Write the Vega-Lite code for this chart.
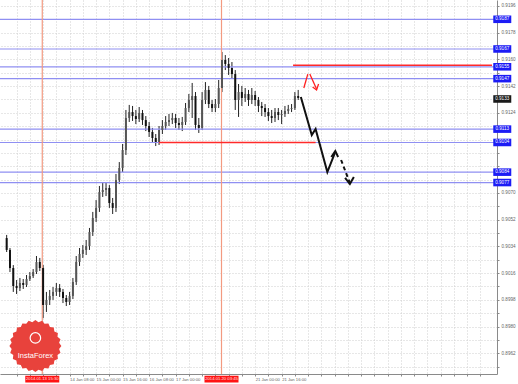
{
"$schema": "https://vega.github.io/schema/vega-lite/v6.json",
"width": 497, "height": 374,
"autosize": {"type": "none"},
"padding": {"left": 0, "top": 0, "right": 21, "bottom": 10},
"background": "white",
"config": {"view": {"stroke": null}, "font": "Liberation Sans"},
"resolve": {"scale": {"x": "shared", "y": "shared"}, "axis": {"x": "independent", "y": "independent"}},
"datasets": {
"candles": [
{"t":-6,"o":0.90396,"h":0.90417,"l":0.90302,"c":0.90316},
{"t":-4,"o":0.90316,"h":0.90329,"l":0.90167,"c":0.90194},
{"t":-2,"o":0.90194,"h":0.90214,"l":0.90033,"c":0.90073},
{"t":0,"o":0.90073,"h":0.90113,"l":0.90019,"c":0.90059},
{"t":2,"o":0.90059,"h":0.90127,"l":0.90039,"c":0.90093},
{"t":4,"o":0.90093,"h":0.90120,"l":0.90053,"c":0.90080},
{"t":6,"o":0.90080,"h":0.90147,"l":0.90066,"c":0.90120},
{"t":8,"o":0.90120,"h":0.90167,"l":0.90107,"c":0.90140},
{"t":10,"o":0.90140,"h":0.90187,"l":0.90127,"c":0.90167},
{"t":12,"o":0.90167,"h":0.90275,"l":0.90154,"c":0.90235},
{"t":14,"o":0.90235,"h":0.90262,"l":0.90174,"c":0.90194},
{"t":16,"o":0.90194,"h":0.90214,"l":0.89857,"c":0.89945},
{"t":18,"o":0.89945,"h":0.90033,"l":0.89898,"c":0.89979},
{"t":20,"o":0.89979,"h":0.90046,"l":0.89945,"c":0.90006},
{"t":22,"o":0.90006,"h":0.90066,"l":0.89979,"c":0.90033},
{"t":24,"o":0.90033,"h":0.90093,"l":0.90006,"c":0.90059},
{"t":26,"o":0.90059,"h":0.90086,"l":0.89999,"c":0.90033},
{"t":28,"o":0.90033,"h":0.90053,"l":0.89958,"c":0.89992},
{"t":30,"o":0.89992,"h":0.90012,"l":0.89938,"c":0.89965},
{"t":32,"o":0.89965,"h":0.90033,"l":0.89945,"c":0.90006},
{"t":34,"o":0.90006,"h":0.90127,"l":0.89985,"c":0.90100},
{"t":36,"o":0.90100,"h":0.90275,"l":0.90080,"c":0.90235},
{"t":38,"o":0.90235,"h":0.90329,"l":0.90208,"c":0.90289},
{"t":40,"o":0.90289,"h":0.90349,"l":0.90262,"c":0.90316},
{"t":42,"o":0.90316,"h":0.90383,"l":0.90282,"c":0.90342},
{"t":44,"o":0.90342,"h":0.90464,"l":0.90316,"c":0.90437},
{"t":46,"o":0.90437,"h":0.90572,"l":0.90410,"c":0.90531},
{"t":48,"o":0.90531,"h":0.90652,"l":0.90504,"c":0.90599},
{"t":50,"o":0.90599,"h":0.90747,"l":0.90572,"c":0.90706},
{"t":52,"o":0.90706,"h":0.90767,"l":0.90673,"c":0.90720},
{"t":54,"o":0.90720,"h":0.90767,"l":0.90679,"c":0.90733},
{"t":56,"o":0.90733,"h":0.90753,"l":0.90599,"c":0.90632},
{"t":58,"o":0.90632,"h":0.90666,"l":0.90558,"c":0.90599},
{"t":60,"o":0.90599,"h":0.90828,"l":0.90572,"c":0.90787},
{"t":62,"o":0.90787,"h":0.90908,"l":0.90760,"c":0.90868},
{"t":64,"o":0.90868,"h":0.91030,"l":0.90841,"c":0.90989},
{"t":66,"o":0.90989,"h":0.91259,"l":0.90956,"c":0.91205},
{"t":68,"o":0.91205,"h":0.91293,"l":0.91178,"c":0.91245},
{"t":70,"o":0.91245,"h":0.91286,"l":0.91185,"c":0.91218},
{"t":72,"o":0.91218,"h":0.91259,"l":0.91164,"c":0.91198},
{"t":74,"o":0.91198,"h":0.91279,"l":0.91178,"c":0.91239},
{"t":76,"o":0.91239,"h":0.91259,"l":0.91158,"c":0.91191},
{"t":78,"o":0.91191,"h":0.91218,"l":0.91117,"c":0.91151},
{"t":80,"o":0.91151,"h":0.91178,"l":0.91077,"c":0.91111},
{"t":82,"o":0.91111,"h":0.91138,"l":0.91043,"c":0.91070},
{"t":84,"o":0.91070,"h":0.91097,"l":0.91016,"c":0.91043},
{"t":86,"o":0.91043,"h":0.91151,"l":0.91023,"c":0.91124},
{"t":88,"o":0.91124,"h":0.91191,"l":0.91097,"c":0.91151},
{"t":90,"o":0.91151,"h":0.91218,"l":0.91124,"c":0.91178},
{"t":92,"o":0.91178,"h":0.91232,"l":0.91151,"c":0.91191},
{"t":94,"o":0.91191,"h":0.91239,"l":0.91164,"c":0.91205},
{"t":96,"o":0.91205,"h":0.91232,"l":0.91138,"c":0.91171},
{"t":98,"o":0.91171,"h":0.91205,"l":0.91124,"c":0.91158},
{"t":100,"o":0.91158,"h":0.91212,"l":0.91117,"c":0.91178},
{"t":102,"o":0.91178,"h":0.91306,"l":0.91158,"c":0.91272},
{"t":104,"o":0.91272,"h":0.91367,"l":0.91245,"c":0.91326},
{"t":106,"o":0.91326,"h":0.91441,"l":0.91205,"c":0.91353},
{"t":108,"o":0.91353,"h":0.91380,"l":0.91124,"c":0.91158},
{"t":110,"o":0.91158,"h":0.91205,"l":0.91104,"c":0.91138},
{"t":112,"o":0.91138,"h":0.91380,"l":0.91124,"c":0.91326},
{"t":114,"o":0.91326,"h":0.91447,"l":0.91299,"c":0.91394},
{"t":116,"o":0.91394,"h":0.91421,"l":0.91272,"c":0.91299},
{"t":118,"o":0.91299,"h":0.91326,"l":0.91245,"c":0.91272},
{"t":120,"o":0.91272,"h":0.91333,"l":0.91245,"c":0.91299},
{"t":122,"o":0.91299,"h":0.91461,"l":0.91272,"c":0.91407},
{"t":124,"o":0.91407,"h":0.91650,"l":0.91380,"c":0.91596},
{"t":126,"o":0.91596,"h":0.91629,"l":0.91528,"c":0.91569},
{"t":128,"o":0.91569,"h":0.91609,"l":0.91495,"c":0.91542},
{"t":130,"o":0.91542,"h":0.91582,"l":0.91474,"c":0.91501},
{"t":132,"o":0.91501,"h":0.91528,"l":0.91259,"c":0.91326},
{"t":134,"o":0.91326,"h":0.91434,"l":0.91212,"c":0.91380},
{"t":136,"o":0.91380,"h":0.91421,"l":0.91286,"c":0.91340},
{"t":138,"o":0.91340,"h":0.91407,"l":0.91313,"c":0.91367},
{"t":140,"o":0.91367,"h":0.91394,"l":0.91286,"c":0.91326},
{"t":142,"o":0.91326,"h":0.91407,"l":0.91299,"c":0.91360},
{"t":144,"o":0.91360,"h":0.91387,"l":0.91286,"c":0.91326},
{"t":146,"o":0.91326,"h":0.91346,"l":0.91245,"c":0.91286},
{"t":148,"o":0.91286,"h":0.91313,"l":0.91218,"c":0.91272},
{"t":150,"o":0.91272,"h":0.91299,"l":0.91212,"c":0.91245},
{"t":152,"o":0.91245,"h":0.91272,"l":0.91185,"c":0.91218},
{"t":154,"o":0.91218,"h":0.91259,"l":0.91171,"c":0.91205},
{"t":156,"o":0.91205,"h":0.91272,"l":0.91178,"c":0.91245},
{"t":158,"o":0.91245,"h":0.91272,"l":0.91191,"c":0.91225},
{"t":160,"o":0.91225,"h":0.91259,"l":0.91164,"c":0.91232},
{"t":162,"o":0.91232,"h":0.91286,"l":0.91212,"c":0.91252},
{"t":164,"o":0.91252,"h":0.91293,"l":0.91232,"c":0.91266},
{"t":166,"o":0.91266,"h":0.91299,"l":0.91245,"c":0.91272},
{"t":168,"o":0.91272,"h":0.91380,"l":0.91259,"c":0.91353},
{"t":170,"o":0.91353,"h":0.91394,"l":0.91326,"c":0.91340}
],
"hlines": [{"p":0.9187},{"p":0.9167},{"p":0.9155},{"p":0.9147},{"p":0.9113},{"p":0.9104},{"p":0.9084},{"p":0.9077}],
"redlines": [{"t1":166.9,"t2":287,"p":0.9156},{"t1":85.9,"t2":180.5,"p":0.9104}],
"vlines": [{"t":15.5},{"t":123.7}],
"arrow": [
{"seg":"a","i":0,"t":171.6,"p":0.91346},
{"seg":"a","i":1,"t":178.2,"p":0.91090},
{"seg":"a","i":2,"t":180.5,"p":0.91131},
{"seg":"a","i":3,"t":187.6,"p":0.90841},
{"seg":"a","i":4,"t":192.4,"p":0.90976},
{"seg":"h","i":0,"t":190.0,"p":0.90942},
{"seg":"h","i":1,"t":192.4,"p":0.90983},
{"seg":"h","i":2,"t":194.1,"p":0.90942},
{"seg":"h2","i":0,"t":198.3,"p":0.90801},
{"seg":"h2","i":1,"t":201.2,"p":0.90760},
{"seg":"h2","i":2,"t":203.6,"p":0.90807}
],
"dashed": [
{"seg":"d","i":0,"t":195.9,"p":0.90922},
{"seg":"d","i":1,"t":201.2,"p":0.90767}
],
"redarrow": [
{"seg":"r1","i":0,"t":173.4,"p":0.91407},
{"seg":"r1","i":1,"t":175.8,"p":0.91501},
{"seg":"r2","i":0,"t":177.0,"p":0.91501},
{"seg":"r2","i":1,"t":181.1,"p":0.91400},
{"seg":"r3","i":0,"t":178.7,"p":0.91414},
{"seg":"r3","i":1,"t":181.1,"p":0.91394},
{"seg":"r3","i":2,"t":182.3,"p":0.91434}
],
"plabels": [
{"p":0.9187,"lab":"0.9187","kind":"blue"},
{"p":0.9167,"lab":"0.9167","kind":"blue"},
{"p":0.9155,"lab":"0.9155","kind":"blue"},
{"p":0.9147,"lab":"0.9147","kind":"blue"},
{"p":0.91333,"lab":"0.9133","kind":"black"},
{"p":0.9113,"lab":"0.9113","kind":"blue"},
{"p":0.9104,"lab":"0.9104","kind":"blue"},
{"p":0.9084,"lab":"0.9084","kind":"blue"},
{"p":0.9077,"lab":"0.9077","kind":"blue"}
],
"tlabels": [
{"t":15.5,"lab":"2014.01.13 15:30"},
{"t":123.7,"lab":"2014.01.20 03:45"}
]
},
"layer": [
{
"data": {"name": "candles"},
"mark": {"type": "rule", "color": "#222222", "strokeWidth": 1},
"encoding": {
"x": {"field": "t", "type": "quantitative", "scale": {"domain": [-7, 287], "nice": false, "zero": false},
 "axis": {"orient": "bottom", "values": [0,8,16,24,32,40,48,56,64,72,80,88,96,104,112,120,128,136,144,152,160,168,176,184,192,200,208,216,224,232,240,248,256,264,272,280],
  "grid": true, "gridColor": "#cfcfcf", "gridDash": [1, 2], "domain": true, "domainColor": "#8a8a8a", "ticks": true, "tickColor": "#8a8a8a", "tickSize": 2,
  "labelAlign": "left", "labelBaseline": "top", "labelPadding": 1, "labelFontSize": 4.2, "labelColor": "#666666", "labelOverlap": false, "labelBound": false, "labelFlush": false, "title": null,
  "labelExpr": "(datum.value % 16 == 0 && datum.value > 16 && datum.value <= 160 && datum.value != 112 && datum.value != 128) ? ['13 Jan 00:00','13 Jan 16:00','14 Jan 08:00','15 Jan 00:00','15 Jan 16:00','16 Jan 08:00','17 Jan 00:00','17 Jan 16:00','20 Jan 08:00','21 Jan 00:00','21 Jan 16:00'][datum.value / 16] : ''"}},
"y": {"field": "l", "type": "quantitative", "scale": {"domain": [0.8948, 0.92], "nice": false, "zero": false},
 "axis": {"orient": "right", "values": [0.9196,0.9187,0.9178,0.9169,0.916,0.9151,0.9142,0.9133,0.9124,0.9115,0.9106,0.9097,0.9088,0.9079,0.907,0.9061,0.9052,0.9043,0.9034,0.9025,0.9016,0.9007,0.8998,0.8989,0.898,0.8971,0.8962,0.8953],
  "grid": true, "gridColor": "#cfcfcf", "gridDash": [1, 2], "domain": true, "domainColor": "#8a8a8a", "ticks": true, "tickColor": "#8a8a8a", "tickSize": 2,
  "labelAlign": "left", "labelPadding": 2, "labelFontSize": 4.6, "labelColor": "#666666", "labelOverlap": false, "labelBound": false, "labelFlush": false, "title": null,
  "labelExpr": "(round(datum.value * 10000) % 18 == 16 && round(datum.value * 10000) != 9106 && round(datum.value * 10000) != 9088) ? format(datum.value, '.4f') : ''"}},
"y2": {"field": "h"}
}
},
{
"data": {"name": "hlines"},
"mark": {"type": "rule", "color": "#8f8ff2", "strokeWidth": 1.2},
"encoding": {
"y": {"field": "p", "type": "quantitative", "axis": null}
}
},
{
"data": {"name": "vlines"},
"mark": {"type": "rule", "color": "#f39a80", "strokeWidth": 1.2},
"encoding": {
"x": {"field": "t", "type": "quantitative", "axis": null}
}
},
{
"data": {"name": "redlines"},
"mark": {"type": "rule", "color": "#ff2a2a", "strokeWidth": 1.5},
"encoding": {
"x": {"field": "t1", "type": "quantitative", "axis": null},
"x2": {"field": "t2"},
"y": {"field": "p", "type": "quantitative", "axis": null}
}
},
{
"data": {"name": "candles"},
"mark": {"type": "bar", "width": 2},
"encoding": {
"x": {"field": "t", "type": "quantitative", "axis": null},
"y": {"field": "o", "type": "quantitative", "axis": null},
"y2": {"field": "c"},
"color": {"condition": {"test": "datum.c > datum.o", "value": "#555555"}, "value": "#111111"}
}
},
{
"data": {"name": "arrow"},
"mark": {"type": "line", "color": "#111111", "strokeWidth": 2},
"encoding": {
"x": {"field": "t", "type": "quantitative", "axis": null},
"y": {"field": "p", "type": "quantitative", "axis": null},
"detail": {"field": "seg"},
"order": {"field": "i"}
}
},
{
"data": {"name": "dashed"},
"mark": {"type": "line", "color": "#111111", "strokeWidth": 2, "strokeDash": [4, 3]},
"encoding": {
"x": {"field": "t", "type": "quantitative", "axis": null},
"y": {"field": "p", "type": "quantitative", "axis": null},
"detail": {"field": "seg"},
"order": {"field": "i"}
}
},
{
"data": {"name": "redarrow"},
"mark": {"type": "line", "color": "#ff2020", "strokeWidth": 1.3},
"encoding": {
"x": {"field": "t", "type": "quantitative", "axis": null},
"y": {"field": "p", "type": "quantitative", "axis": null},
"detail": {"field": "seg"},
"order": {"field": "i"}
}
},
{
"data": {"name": "plabels"},
"mark": {"type": "point", "shape": "M-1,-0.42H1V0.42H-1Z", "size": 324, "filled": true, "opacity": 1, "strokeWidth": 0},
"encoding": {
"x": {"datum": 293.2, "type": "quantitative", "axis": null},
"y": {"field": "p", "type": "quantitative", "axis": null},
"color": {"field": "kind", "type": "nominal", "scale": {"domain": ["blue", "black"], "range": ["#1c1cf5", "#1a1a1a"]}, "legend": null}
}
},
{
"data": {"name": "plabels"},
"mark": {"type": "text", "color": "white", "fontSize": 4.6, "align": "center", "baseline": "middle"},
"encoding": {
"x": {"datum": 293.2, "type": "quantitative", "axis": null},
"y": {"field": "p", "type": "quantitative", "axis": null},
"text": {"field": "lab"}
}
},
{
"data": {"name": "tlabels"},
"mark": {"type": "point", "shape": "M-1,-0.2H1V0.2H-1Z", "size": 1156, "filled": true, "opacity": 1, "color": "#ff1414", "strokeWidth": 0},
"encoding": {
"x": {"field": "t", "type": "quantitative", "axis": null},
"y": {"datum": 0.89446, "type": "quantitative", "axis": null}
}
},
{
"data": {"name": "tlabels"},
"mark": {"type": "text", "color": "#ffe0e0", "fontSize": 4.2, "align": "center", "baseline": "middle"},
"encoding": {
"x": {"field": "t", "type": "quantitative", "axis": null},
"y": {"datum": 0.89446, "type": "quantitative", "axis": null},
"text": {"field": "lab"}
}
},
{
"data": {"values": [{"name": "InstaForex"}]},
"mark": {"type": "point", "shape": "M1,0L0.912,0.12L0.966,0.259L0.85,0.352L0.866,0.5L0.73,0.56L0.707,0.707L0.56,0.73L0.5,0.866L0.352,0.85L0.259,0.966L0.12,0.912L0,1L-0.12,0.912L-0.259,0.966L-0.352,0.85L-0.5,0.866L-0.56,0.73L-0.707,0.707L-0.73,0.56L-0.866,0.5L-0.85,0.352L-0.966,0.259L-0.912,0.12L-1,0L-0.912,-0.12L-0.966,-0.259L-0.85,-0.352L-0.866,-0.5L-0.73,-0.56L-0.707,-0.707L-0.56,-0.73L-0.5,-0.866L-0.352,-0.85L-0.259,-0.966L-0.12,-0.912L0,-1L0.12,-0.912L0.259,-0.966L0.352,-0.85L0.5,-0.866L0.56,-0.73L0.707,-0.707L0.73,-0.56L0.866,-0.5L0.85,-0.352L0.966,-0.259L0.912,-0.12Z", "size": 2704, "filled": true, "opacity": 1, "color": "#e8423c", "strokeWidth": 0},
"encoding": {
"x": {"datum": 11.34, "type": "quantitative", "axis": null},
"y": {"datum": 0.89669, "type": "quantitative", "axis": null}
}
},
{
"data": {"values": [{"name": "InstaForex"}]},
"mark": {"type": "point", "shape": "circle", "size": 110, "filled": false, "opacity": 1, "color": "white", "strokeWidth": 1.2},
"encoding": {
"x": {"datum": 11.34, "type": "quantitative", "axis": null},
"y": {"datum": 0.89723, "type": "quantitative", "axis": null}
}
},
{
"data": {"values": [{"name": "InstaForex"}]},
"mark": {"type": "text", "color": "white", "fontSize": 7.5, "align": "center", "baseline": "middle"},
"encoding": {
"x": {"datum": 11.34, "type": "quantitative", "axis": null},
"y": {"datum": 0.89601, "type": "quantitative", "axis": null},
"text": {"field": "name"}
}
}
]
}
